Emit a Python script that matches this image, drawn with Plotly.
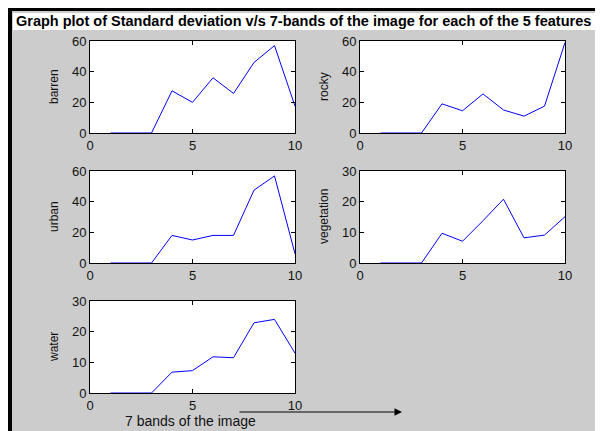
import plotly.graph_objects as go

bands = [1, 2, 3, 4, 5, 6, 7, 8, 9, 10]
barren = [0, 0, 0, 27.5, 20, 36, 25.8, 46, 57, 17.5]
rocky = [0, 0, 0, 19, 14.5, 25.5, 15, 11, 17.5, 59]
urban = [0, 0, 0, 18, 15, 18, 18, 47.5, 56.8, 6]
vegetation = [0, 0, 0, 9.7, 7.1, 13.8, 20.8, 8.2, 9.1, 15.1]
water = [0, 0, 0, 6.8, 7.3, 11.8, 11.5, 22.9, 24, 13]

features = ["barren", "rocky", "urban", "vegetation", "water"]
series = [barren, rocky, urban, vegetation, water]
y_ranges = [[0, 60], [0, 60], [0, 60], [0, 30], [0, 30]]
y_ticks = [[0, 20, 40, 60], [0, 20, 40, 60], [0, 20, 40, 60], [0, 10, 20, 30], [0, 10, 20, 30]]
x_ticks = [0, 5, 10]
title_text = "Graph plot of Standard deviation v/s 7-bands of the image for each of the 5 features"
xlabel_text = "7 bands of the image"

# page body has an 8px margin, so the figure starts at (8, 8) in the window
OFF = 8
W, H = 603 - OFF, 431 - OFF


def px(x):
    return (x - OFF) / W


def py(y):
    return 1 - (y - OFF) / H


# window-pixel boxes of the axes: (x0, x1, y_top, y_bottom)
boxes = [(90, 295, 41, 133), (360, 565, 41, 133),
         (90, 295, 171, 263), (360, 565, 171, 263),
         (90, 295, 301, 393)]

FONT = "Liberation Sans, Arial, sans-serif"
fig = go.Figure()
layout = dict(
    width=W, height=H,
    margin=dict(l=0, r=0, t=0, b=0, autoexpand=False),
    paper_bgcolor="#cccccc", plot_bgcolor="white",
    showlegend=False,
    font=dict(family=FONT, size=12, color="black"),
    shapes=[], annotations=[],
)

for i, (name, vals, yr, yt, box) in enumerate(zip(features, series, y_ranges, y_ticks, boxes)):
    n = "" if i == 0 else str(i + 1)
    fig.add_trace(go.Scatter(x=bands, y=vals, mode="lines",
                             line=dict(color="#0000ff", width=1),
                             xaxis="x" + n, yaxis="y" + n, hoverinfo="skip"))
    x0, x1, yt0, yb0 = box
    common = dict(showline=True, linecolor="black", linewidth=1, mirror="ticks",
                  ticks="inside", ticklen=4, tickcolor="black", showgrid=False,
                  zeroline=False, automargin=False,
                  tickfont=dict(family=FONT, size=13, color="#111111"))
    layout["xaxis" + n] = dict(domain=[px(x0), px(x1)], range=[0, 10], tickvals=x_ticks,
                               anchor="y" + n, **common)
    layout["yaxis" + n] = dict(domain=[py(yb0), py(yt0)], range=yr, tickvals=yt,
                               anchor="x" + n, **common)
    layout["annotations"].append(dict(
        text=name, textangle=-90, xref="paper", yref="paper",
        x=px(x0 - 36), y=py((yt0 + yb0) / 2), showarrow=False,
        font=dict(family=FONT, size=12, color="#111111"),
        xanchor="center", yanchor="middle"))

# frame: black bars on left and top, white title box
layout["shapes"] += [
    dict(type="rect", xref="paper", yref="paper", x0=0, x1=px(12), y0=0, y1=1,
         fillcolor="black", line=dict(width=0), layer="below"),
    dict(type="rect", xref="paper", yref="paper", x0=0, x1=1, y0=py(11), y1=1,
         fillcolor="black", line=dict(width=0), layer="below"),
    dict(type="rect", xref="paper", yref="paper", x0=px(13), x1=px(595), y0=py(30), y1=py(13),
         fillcolor="white", line=dict(width=0), layer="below"),
]

layout["annotations"] += [
    dict(text="<b>" + title_text + "</b>", xref="paper", yref="paper",
         x=px(303), y=py(21.5), showarrow=False, xanchor="center", yanchor="middle",
         font=dict(family=FONT, size=14.5, color="black")),
    dict(text=xlabel_text, xref="paper", yref="paper", x=px(190), y=py(421),
         showarrow=False, xanchor="center", yanchor="middle",
         font=dict(family=FONT, size=14, color="#111111")),
    dict(text="", xref="paper", yref="paper", x=px(402), y=py(412),
         axref="pixel", ayref="pixel", ax=-164, ay=0,
         showarrow=True, arrowhead=2, arrowsize=1.5, arrowwidth=1, arrowcolor="black"),
]

fig.update_layout(**layout)
fig.write_html("out.html")
